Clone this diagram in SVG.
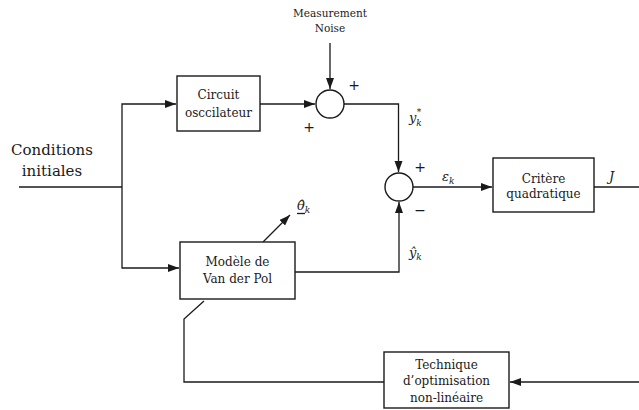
<svg xmlns="http://www.w3.org/2000/svg" width="639" height="410" viewBox="0 0 639 410">
<defs>
<marker id="ar" markerUnits="userSpaceOnUse" markerWidth="12" markerHeight="10" refX="11" refY="4" orient="auto">
<path d="M0,0 L11,4 L0,8 Z" fill="#1a1a1a"/>
</marker>
<style>
.box{fill:#fff;stroke:#1a1a1a;stroke-width:1.4}
.ln{fill:none;stroke:#1a1a1a;stroke-width:1.3}
.t{font-family:"DejaVu Serif","Liberation Serif",serif;font-size:12px;fill:#1a1a1a;text-anchor:middle}
.s{font-family:"DejaVu Serif","Liberation Serif",serif;font-size:10.5px;fill:#1a1a1a;text-anchor:middle}
.big{font-family:"DejaVu Serif","Liberation Serif",serif;font-size:15px;fill:#1a1a1a;text-anchor:middle}
.m{font-family:"DejaVu Serif","Liberation Serif",serif;font-size:13px;font-style:italic;fill:#1a1a1a}
.p{font-family:"DejaVu Sans",sans-serif;font-size:14px;fill:#1a1a1a;text-anchor:middle}
</style>
</defs>
<g id="connectors">
<path class="ln" d="M19,187 H122"/>
<path class="ln" d="M122,268.5 V104 H176" marker-end="url(#ar)"/>
<path class="ln" d="M122,268 H179" marker-end="url(#ar)"/>
<path class="ln" d="M260,104 H315" marker-end="url(#ar)"/>
<path class="ln" d="M330,43 V89" marker-end="url(#ar)"/>
<path class="ln" d="M344,104 H398.5 V172" marker-end="url(#ar)"/>
<path class="ln" d="M295,272 H399 V202" marker-end="url(#ar)"/>
<path class="ln" d="M413,187 H492" marker-end="url(#ar)"/>
<path class="ln" d="M594,187 H639"/>
<path class="ln" d="M263,242 L290,215" marker-end="url(#ar)"/>
<path class="ln" d="M639,382 H510" marker-end="url(#ar)"/>
<path class="ln" d="M384,382 H184 V319 L204,301"/>
</g>
<g id="sum1">
<circle cx="330" cy="104" r="14" class="box"/>
<text class="p" x="354" y="90">+</text>
<text class="p" x="309" y="132">+</text>
</g>
<g id="sum2">
<circle cx="399" cy="187" r="14" class="box"/>
<text class="p" x="420" y="172">+</text>
<text class="p" x="420" y="215">−</text>
</g>
<g id="circuit">
<rect class="box" x="177" y="76" width="83" height="55"/>
<text class="t" x="218.5" y="99">Circuit</text>
<text class="t" x="218.5" y="117">osccilateur</text>
</g>
<g id="modele">
<rect class="box" x="180" y="242" width="115" height="57"/>
<text class="t" x="237.5" y="266">Modèle de</text>
<text class="t" x="237.5" y="283">Van der Pol</text>
</g>
<g id="critere">
<rect class="box" x="493" y="158" width="101" height="54"/>
<text class="t" x="543.5" y="183">Critère</text>
<text class="t" x="543.5" y="198">quadratique</text>
</g>
<g id="technique">
<rect class="box" x="384" y="352" width="125" height="56"/>
<text class="t" x="446.5" y="369">Technique</text>
<text class="t" x="446.5" y="385">d’optimisation</text>
<text class="t" x="446.5" y="402">non-linéaire</text>
</g>
<g id="noise">
<text class="s" x="330" y="17">Measurement</text>
<text class="s" x="330" y="32">Noise</text>
</g>
<g id="conditions">
<text class="big" x="52" y="155">Conditions</text>
<text class="big" x="52" y="176">initiales</text>
</g>
<g id="labels">
<text class="m" x="409" y="122">y<tspan font-size="9" dx="0.5" dy="-7">*</tspan><tspan font-size="9" dx="-5" dy="11">k</tspan></text>
<text class="m" x="409" y="257">ŷ<tspan font-size="9" dy="3">k</tspan></text>
<text class="m" x="442" y="181">ε<tspan font-size="9" dy="3">k</tspan></text>
<text class="m" x="609" y="181">J</text>
<text class="m" x="297" y="210">θ̂<tspan font-size="9" dy="3">k</tspan></text>
<path class="ln" d="M297,213.5 H305" stroke-width="0.9"/>
</g>
</svg>
